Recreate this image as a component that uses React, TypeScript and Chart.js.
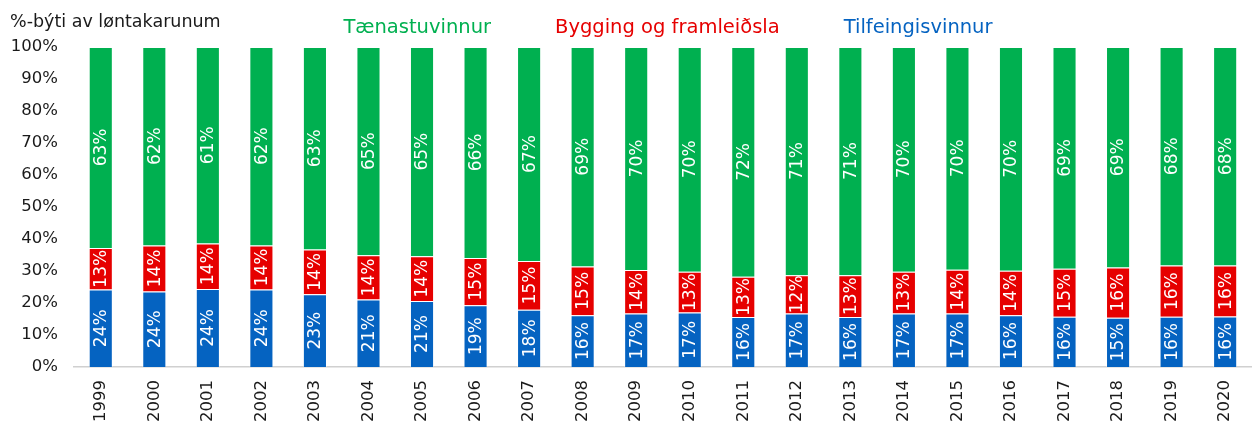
import React, { useEffect, useRef } from "react";
import { Chart, registerables } from "chart.js";

Chart.register(...registerables);

const years = ["1999","2000","2001","2002","2003","2004","2005","2006","2007","2008","2009","2010","2011","2012","2013","2014","2015","2016","2017","2018","2019","2020"];
const tilfeingis = [24.2,23.6,24.4,24.2,22.7,21.1,20.6,19.3,17.9,16.2,16.7,17.0,15.6,16.7,15.6,16.7,16.7,16.2,15.7,15.4,15.7,15.8];
const bygging = [13.0,14.4,14.2,13.8,14.0,13.8,14.0,14.8,15.2,15.2,13.6,12.8,12.6,12.0,13.1,13.1,13.7,13.9,15.0,15.7,16.0,15.9];
const taenastu = [62.8,62.0,61.4,62.0,63.3,65.1,65.4,65.9,66.9,68.6,69.7,70.2,71.8,71.3,71.3,70.2,69.6,69.9,69.3,68.9,68.3,68.3];
const yTicks = [0,10,20,30,40,50,60,70,80,90,100];
const seriesNames = ["Tilfeingisvinnur", "Bygging og framleiðsla", "Tænastuvinnur"];
const seriesColors = ["#0563C1", "#E60000", "#00B050"];
const yTitle = "%-býti av løntakarunum";

const FONT = "'DejaVu Sans', Verdana, sans-serif";

const labelPlugin = {
  id: "segLabels",
  afterDatasetsDraw(chart: any) {
    const ctx = chart.ctx;
    ctx.save();
    ctx.fillStyle = "#ffffff";
    ctx.font = `17px ${FONT}`;
    ctx.textAlign = "center";
    ctx.textBaseline = "middle";
    chart.data.datasets.forEach((ds: any, di: number) => {
      const meta = chart.getDatasetMeta(di);
      meta.data.forEach((el: any, i: number) => {
        const v = ds.data[i];
        const cy = (el.y + el.base) / 2;
        ctx.save();
        ctx.translate(el.x, cy);
        ctx.rotate(-Math.PI / 2);
        ctx.fillText(Math.round(v) + "%", 0, 1);
        ctx.restore();
      });
    });
    ctx.restore();
  },
};

const headerPlugin = {
  id: "header",
  afterDraw(chart: any) {
    const ctx = chart.ctx;
    ctx.save();
    ctx.textBaseline = "alphabetic";
    ctx.textAlign = "left";
    ctx.fillStyle = "#1a1a1a";
    ctx.font = `17.5px ${FONT}`;
    ctx.fillText(yTitle, 10, 27);
    // legend, top order: green, red, blue
    ctx.font = `19.5px ${FONT}`;
    const order = [2, 1, 0];
    const gap = 64;
    const widths = order.map((k) => ctx.measureText(seriesNames[k]).width);
    const total = widths.reduce((a, b) => a + b, 0) + gap * (order.length - 1);
    const area = chart.chartArea;
    let x = (area.left + area.right) / 2 + 5 - total / 2;
    order.forEach((k, j) => {
      ctx.fillStyle = seriesColors[k];
      ctx.fillText(seriesNames[k], x, 33);
      x += widths[j] + gap;
    });
    ctx.restore();
  },
};

export default function App() {
  const ref = useRef<HTMLCanvasElement>(null);
  useEffect(() => {
    if (!ref.current) return;
    const values = [tilfeingis, bygging, taenastu];
    const chart = new Chart(ref.current, {
      type: "bar",
      data: {
        labels: years,
        datasets: values.map((d, k) => ({
          label: seriesNames[k],
          data: d,
          backgroundColor: seriesColors[k],
          borderColor: "rgba(255,255,255,0.35)",
          borderWidth: 1,
          barPercentage: 0.45,
          categoryPercentage: 1,
        })),
      },
      options: {
        animation: false,
        responsive: true,
        maintainAspectRatio: false,
        layout: { padding: { top: 47, left: 0, right: 2, bottom: 8 } },
        plugins: {
          legend: { display: false },
          tooltip: { enabled: false },
          title: { display: false },
        },
        scales: {
          x: {
            stacked: true,
            afterFit(scale: any) {
              scale.height = 55;
            },
            grid: { display: false, drawTicks: false },
            border: { display: true, color: "#d0d0d0", width: 1.5 },
            ticks: {
              color: "#1a1a1a",
              font: { family: FONT, size: 16.5 },
              minRotation: 90,
              maxRotation: 90,
              padding: 13,
              autoSkip: false,
            },
          },
          y: {
            stacked: true,
            min: 0,
            max: 100,
            afterFit(scale: any) {
              scale.width = 74;
            },
            afterBuildTicks(scale: any) {
              scale.ticks = yTicks.map((v) => ({ value: v }));
            },
            grid: { display: false, drawTicks: false },
            border: { display: false },
            ticks: {
              color: "#1a1a1a",
              font: { family: FONT, size: 16.5 },
              padding: 16,
              callback: (v: any) => v + "%",
            },
          },
        },
      },
      plugins: [labelPlugin, headerPlugin],
    });
    return () => chart.destroy();
  }, []);
  return (
    <div style={{ position: "absolute", left: 0, top: 0, width: 1258, height: 430, background: "#fff" }}>
      <canvas ref={ref} />
    </div>
  );
}
